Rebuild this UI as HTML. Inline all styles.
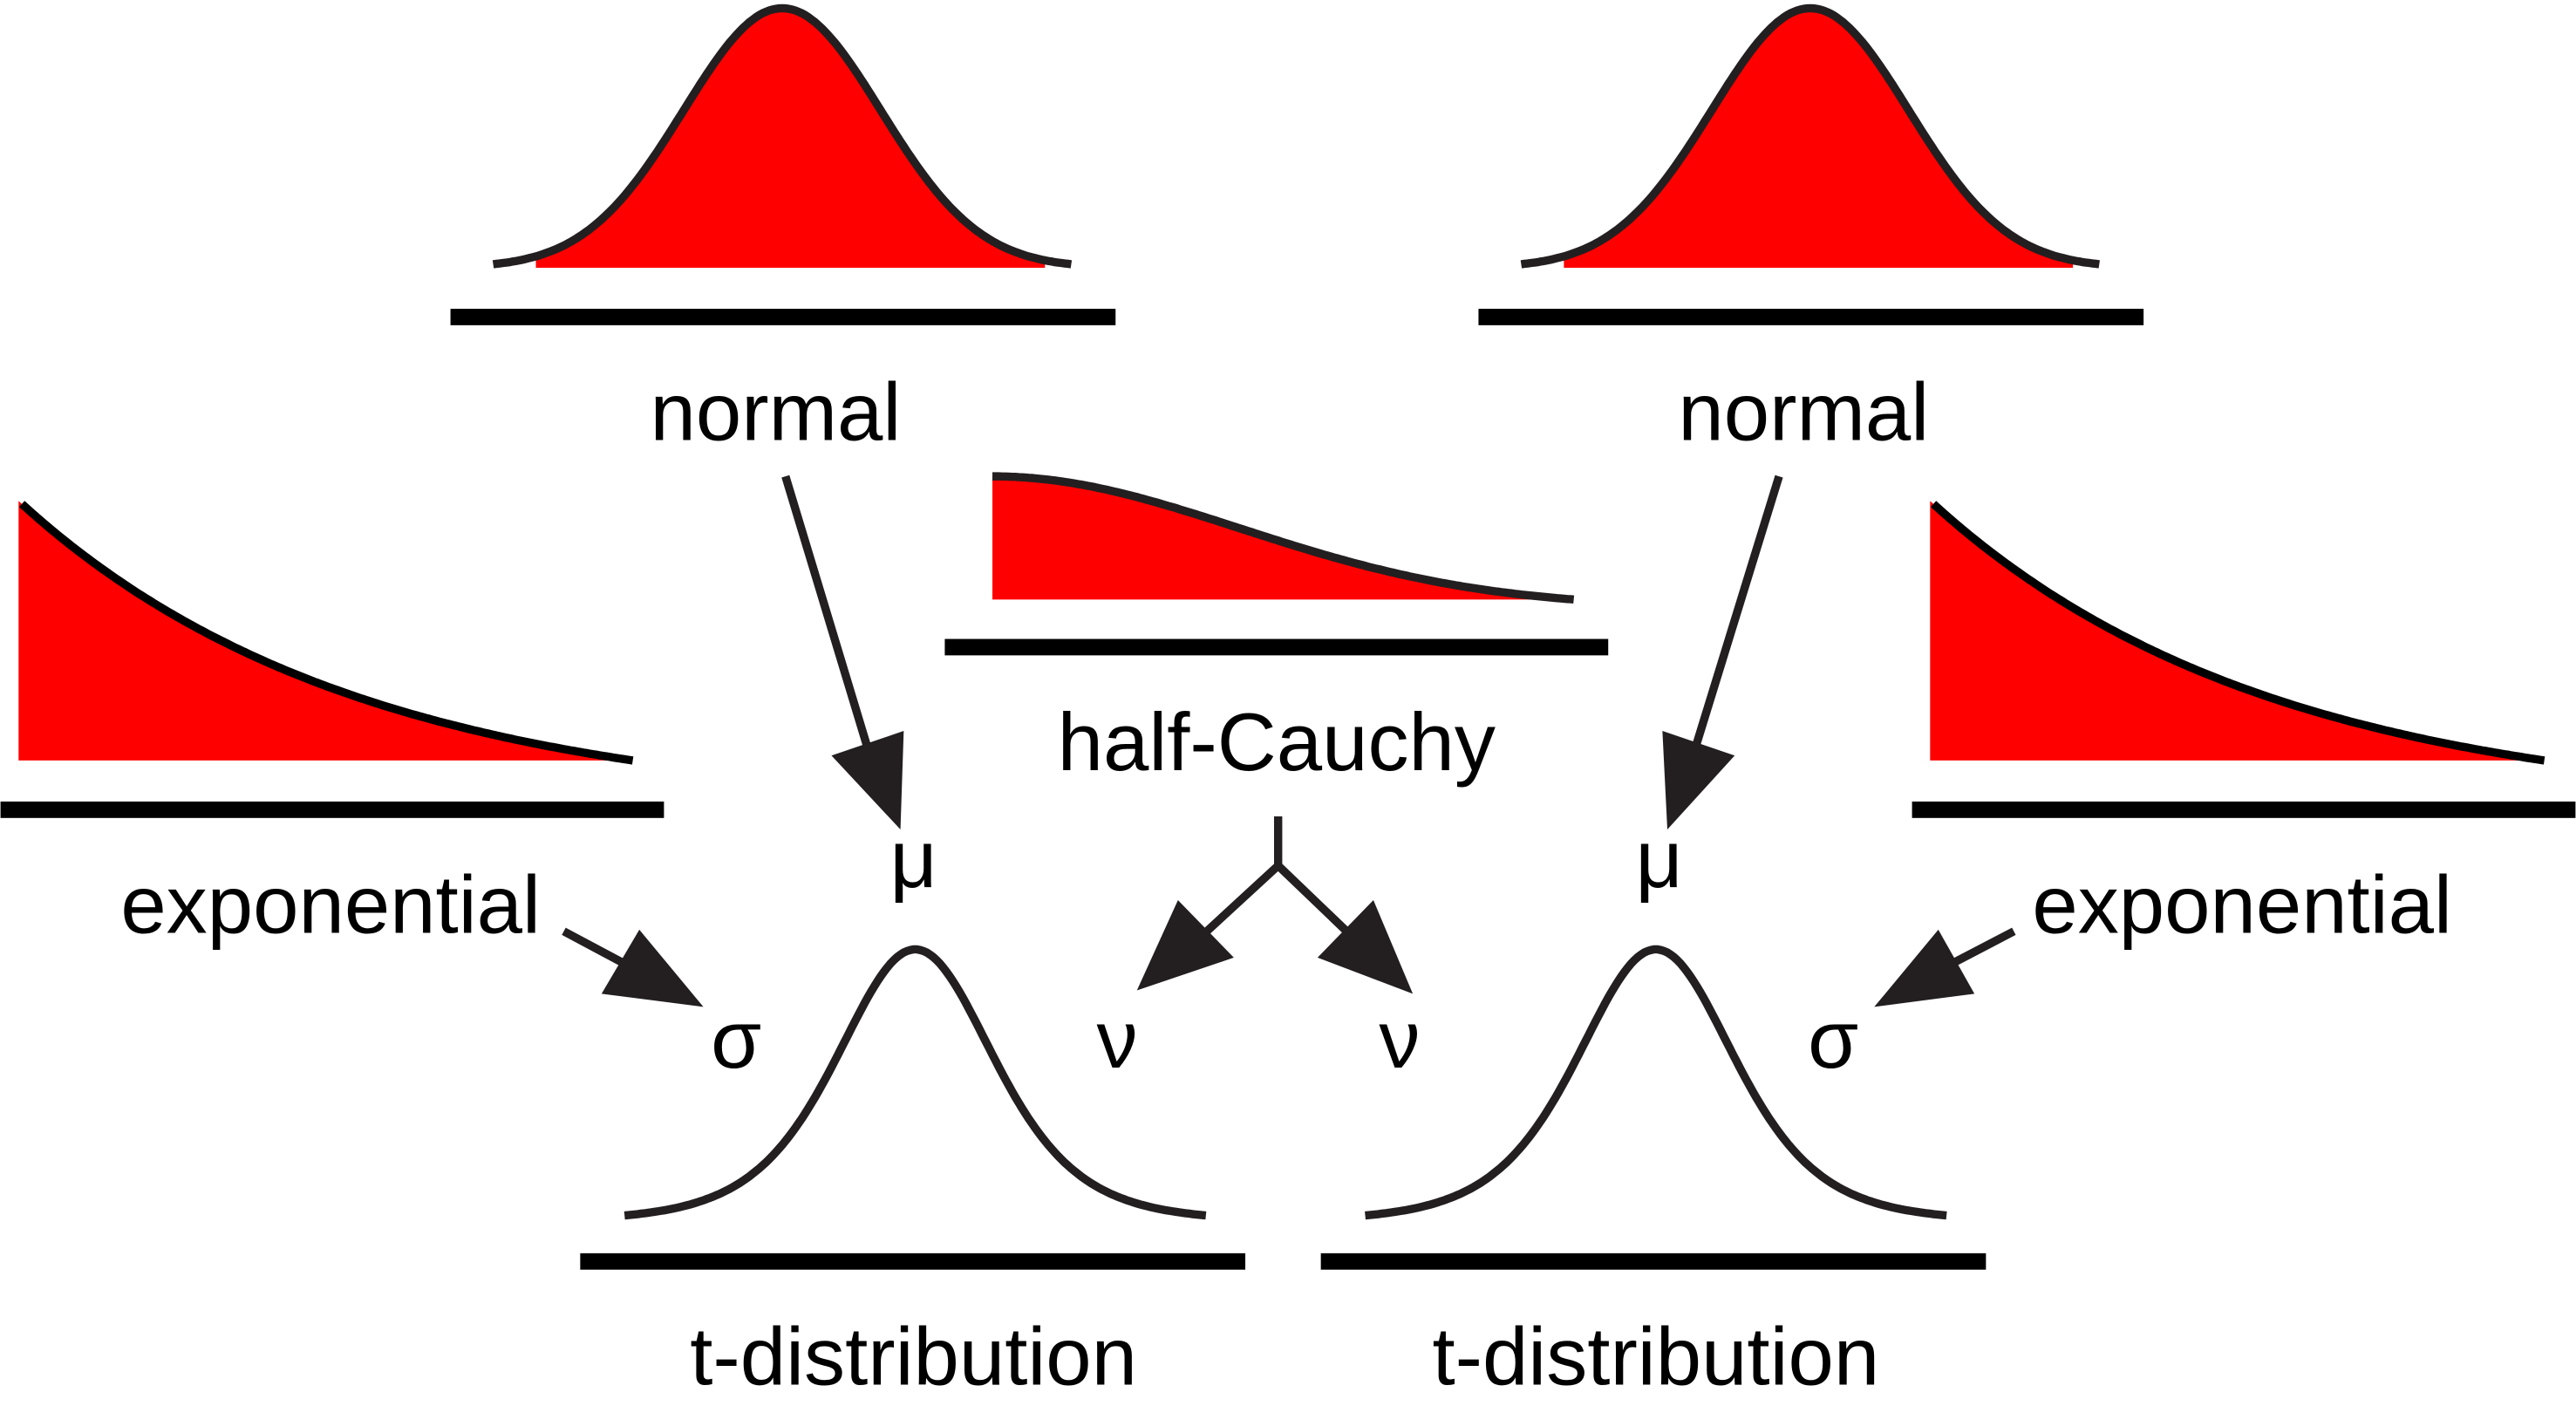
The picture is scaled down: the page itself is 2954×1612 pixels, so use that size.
<!DOCTYPE html>
<html><head><meta charset="utf-8"><style>
html,body{margin:0;padding:0;background:#fff;}
svg{display:block;}
text{font-family:"Liberation Sans",sans-serif;font-size:50px;fill:#000;}
</style></head><body>
<svg id="fig" width="2954" height="1612" viewBox="0 0 1568 856" xmlns="http://www.w3.org/2000/svg">
<g id="g"></g>
<text x="472" y="268" text-anchor="middle">normal</text>
<text x="1098" y="268" text-anchor="middle">normal</text>
<text x="201" y="568" text-anchor="middle">exponential</text>
<text x="1365" y="568" text-anchor="middle">exponential</text>
<text x="777" y="469" text-anchor="middle">half-Cauchy</text>
<text x="556" y="843" text-anchor="middle">t-distribution</text>
<text x="1008" y="843" text-anchor="middle">t-distribution</text>
<text x="556" y="540" text-anchor="middle">μ</text>
<text x="1010" y="540" text-anchor="middle">μ</text>
<text x="448" y="650" text-anchor="middle">σ</text>
<text x="1116" y="650" text-anchor="middle">σ</text>
<text x="680" y="650" text-anchor="middle">ν</text>
<text x="852" y="650" text-anchor="middle">ν</text>
</svg>
<script>
const NS="http://www.w3.org/2000/svg";
const g=document.getElementById('g');
function add(tag,attrs,name){const e=document.createElementNS(NS,tag);for(const k in attrs)e.setAttribute(k,attrs[k]);


g.appendChild(e);return e;}
function bar(x1,x2,y,name){add('rect',{x:x1,y:y-5,width:x2-x1,height:10,fill:'#000'},name);}
function pts(f,x1,x2){let a=[];for(let x=x1;x<=x2;x+=2)a.push([x,f(x)]);return a;}
function d(p){return 'M'+p.map(q=>q[0].toFixed(1)+','+q[1].toFixed(1)).join('L');}
// normals
[476,1102].forEach((c,i)=>{
 const f=x=>163-158*Math.exp(-Math.pow(x-c,2)/(2*60*60));
 const fp=pts(f,c-150,c+160);
 add('path',{d:d(fp)+'L'+(c+160)+',163L'+(c-150)+',163Z',fill:'#ff0000'},'normal-fill-'+i);
 add('path',{d:d(pts(f,c-176,c+176)),fill:'none',stroke:'#231f20','stroke-width':5},'normal-curve-'+i);
 bar(c-202,c+203,193,'normal-baseline-'+i);
});
// exponentials
[11,1175].forEach((x0,i)=>{
 const L=374,k=206,e=Math.exp(-L/k);
 const f=x=>463-158*(Math.exp(-(x-x0)/k)-e)/(1-e);
 const p=pts(f,x0,x0+L);
 add('path',{d:d(p)+'L'+x0+',463Z',fill:'#ff0000'},'exponential-fill-'+i);
 add('path',{d:d(pts(f,x0+2,x0+L)),fill:'none',stroke:'#000','stroke-width':5},'exponential-curve-'+i);
 bar(x0-11,x0+393,493,'exponential-baseline-'+i);
});
// half-cauchy
{const s=150,e=Math.exp(-354*354/(2*s*s));
 const f=x=>365-75*(Math.exp(-Math.pow(x-604,2)/(2*s*s))-e)/(1-e);
 const p=pts(f,604,958);
 add('path',{d:d(p)+'L604,365Z',fill:'#ff0000'},'half-cauchy-fill');
 add('path',{d:d(p),fill:'none',stroke:'#231f20','stroke-width':5},'half-cauchy-curve');
 bar(575,979,394,'half-cauchy-baseline');}
// t distributions
[557,1008].forEach((c,i)=>{
 const t=x=>Math.pow(1+Math.pow((x-c)/50,2)/5,-3),e=t(c+177);
 const f=x=>740-162*(t(x)-e)/(1-e);
 add('path',{d:d(pts(f,c-177,c+177)),fill:'none',stroke:'#231f20','stroke-width':5},'t-curve-'+i);
 bar(c-204,c+201,768,'t-baseline-'+i);
});
// arrows
function arrow(l,tri,name){
 add('path',{d:'M'+l.map(p=>p.join(',')).join('L'),fill:'none',stroke:'#231f20','stroke-width':5},name+'-shaft');
 add('polygon',{points:tri.map(p=>p.join(',')).join(' '),fill:'#231f20'},name+'-head');
}
arrow([[478,290],[530,462]],[[548,505],[506,460],[550,445]],'mu-arrow-left');
arrow([[1083,290],[1030,462]],[[1015,505],[1056,460],[1012,445]],'mu-arrow-right');
arrow([[343,567],[388,591]],[[428,613],[366,605],[389,566]],'sigma-arrow-left');
arrow([[1226,567],[1180,591]],[[1141,613],[1202,605],[1180,566]],'sigma-arrow-right');
arrow([[778,497],[778,527],[728,573]],[[692,603],[751,583],[717,548]],'nu-arrow-left');
arrow([[778,527],[826,573]],[[860,605],[802,583],[836,548]],'nu-arrow-right');
</script>
</body></html>
